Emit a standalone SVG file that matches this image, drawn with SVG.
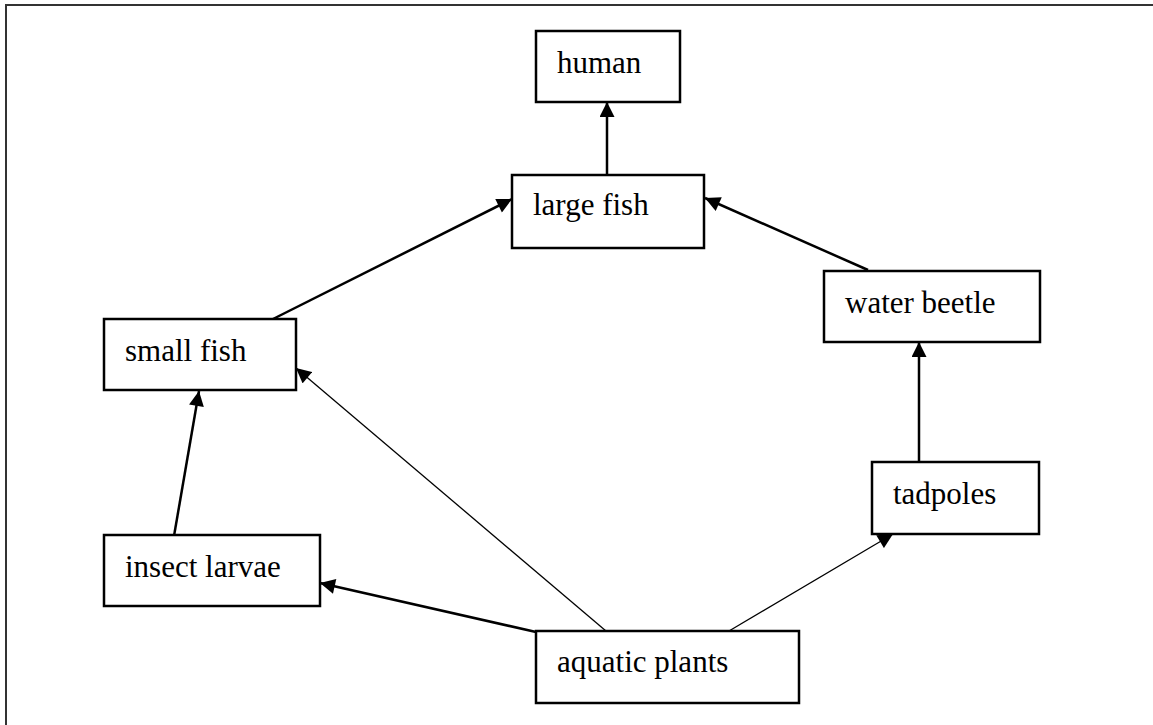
<svg xmlns="http://www.w3.org/2000/svg" width="1153" height="725" viewBox="0 0 1153 725">
<style>
.box{fill:#fff;stroke:#000;stroke-width:2.5}
.lbl{font-family:"Liberation Serif","Times New Roman",serif;font-size:31px;fill:#000}
.thick{stroke:#000;stroke-width:2.5;fill:none}
.thin{stroke:#000;stroke-width:1.3;fill:none}
</style>
<defs>
<marker id="arr" viewBox="0 0 16 16" refX="16" refY="8" markerWidth="16" markerHeight="15" markerUnits="userSpaceOnUse" orient="auto">
<path d="M0,0 L16,8 L0,16 z" fill="#000"/>
</marker>
</defs>
<rect x="6" y="5" width="1300" height="900" fill="none" stroke="#333" stroke-width="2"/>
<g id="connectors">
<line class="thick" x1="607" y1="175" x2="607" y2="102" marker-end="url(#arr)"/>
<line class="thick" x1="273" y1="319" x2="512" y2="199" marker-end="url(#arr)"/>
<line class="thick" x1="868" y1="270" x2="705" y2="198" marker-end="url(#arr)"/>
<line class="thin" x1="606" y1="631" x2="296" y2="368" marker-end="url(#arr)"/>
<line class="thin" x1="729" y1="631" x2="893" y2="534" marker-end="url(#arr)"/>
<line class="thick" x1="536" y1="632" x2="320" y2="583" marker-end="url(#arr)"/>
<line class="thick" x1="174" y1="536" x2="199" y2="391" marker-end="url(#arr)"/>
<line class="thick" x1="919" y1="462" x2="919" y2="342" marker-end="url(#arr)"/>
</g>
<g id="human"><rect class="box" x="536" y="31" width="144" height="71"/><text class="lbl" x="557" y="73">human</text></g>
<g id="large-fish"><rect class="box" x="512" y="175" width="192" height="73"/><text class="lbl" x="533" y="215">large fish</text></g>
<g id="small-fish"><rect class="box" x="104" y="319" width="192" height="71"/><text class="lbl" x="125" y="361">small fish</text></g>
<g id="water-beetle"><rect class="box" x="824" y="271" width="216" height="71"/><text class="lbl" x="845" y="313">water beetle</text></g>
<g id="tadpoles"><rect class="box" x="872" y="462" width="167" height="72"/><text class="lbl" x="893" y="504">tadpoles</text></g>
<g id="insect-larvae"><rect class="box" x="104" y="535" width="216" height="71"/><text class="lbl" x="125" y="577">insect larvae</text></g>
<g id="aquatic-plants"><rect class="box" x="536" y="631" width="263" height="72"/><text class="lbl" x="557" y="672">aquatic plants</text></g>
</svg>
